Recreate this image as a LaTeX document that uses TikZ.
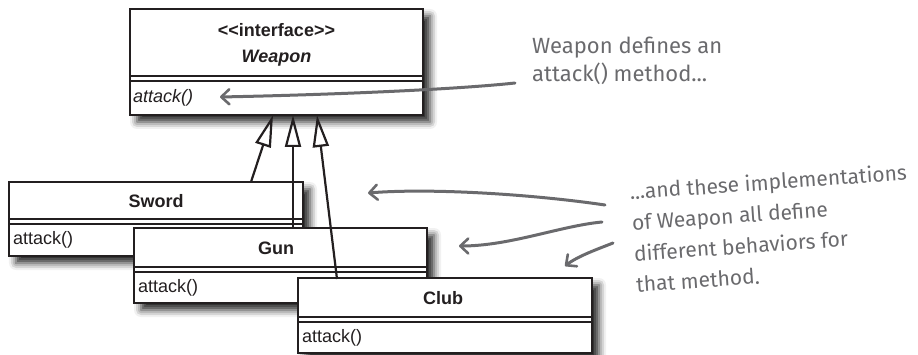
\documentclass[tikz,border=0pt]{standalone}
\usepackage{fontspec}
\setmainfont{Liberation Sans}
\newfontfamily\handfont{Fira Sans}
\usetikzlibrary{arrows.meta,shadows.blur}
\definecolor{ink}{HTML}{231F20}
\definecolor{notegray}{HTML}{6A6A6D}
\tikzset{
  classbox/.style={draw=ink, line width=2.4pt, fill=white, anchor=north west,
    inner sep=0pt, outer sep=0pt,
    blur shadow={shadow xshift=7pt, shadow yshift=-7pt, shadow blur radius=7pt, shadow opacity=85}},
  sepline/.style={draw=ink, line width=1.8pt},
  uml/.style={font=\fontsize{18}{20}\selectfont, text=ink, inner sep=0pt},
  inherit/.style={draw=ink, line width=2.2pt, -{Triangle[open, length=32pt, width=16pt, line width=2.2pt]}},
  notearrow/.style={draw=notegray, line width=3pt, line cap=round,
    -{Straight Barb[length=8pt, width=15pt, line width=2.6pt, round]}},
  handtext/.style={font=\handfont\fontsize{22}{28}\selectfont, text=notegray, align=left, inner sep=0pt}
}
\begin{document}
\begin{tikzpicture}[x=1pt,y=-1pt]
\useasboundingbox (0,0) rectangle (918,355);

% Weapon
\node[classbox, minimum width=293pt, minimum height=106pt] (weapon) at (130,9) {};
\draw[sepline] ([yshift=-67pt]weapon.north west) -- ([yshift=-67pt]weapon.north east);
\draw[sepline] ([yshift=-72pt]weapon.north west) -- ([yshift=-72pt]weapon.north east);
\node[uml, font=\fontsize{18}{20}\selectfont\bfseries] (wstereo) at (276.5,30) {<\kern0pt<interface>\kern0pt>};
\node[uml, font=\fontsize{18}{20}\selectfont\bfseries\itshape] (wname) at (276.5,58) {Weapon};
\node[uml, font=\fontsize{18}{20}\selectfont\itshape, anchor=west] (wop) at (133,98) {attack()};

% Sword
\node[classbox, minimum width=294pt, minimum height=74pt] (sword) at (9,182) {};
\draw[sepline] ([yshift=-37pt]sword.north west) -- ([yshift=-37pt]sword.north east);
\draw[sepline] ([yshift=-42pt]sword.north west) -- ([yshift=-42pt]sword.north east);
\node[uml, font=\fontsize{18}{20}\selectfont\bfseries] (sname) at (156,201) {Sword};
\node[uml, anchor=west] (sop) at (13,240) {attack()};

% Gun
\node[classbox, minimum width=293pt, minimum height=75pt] (gun) at (134,228) {};
\draw[sepline] ([yshift=-39pt]gun.north west) -- ([yshift=-39pt]gun.north east);
\draw[sepline] ([yshift=-44pt]gun.north west) -- ([yshift=-44pt]gun.north east);
\node[uml, font=\fontsize{18}{20}\selectfont\bfseries] (gname) at (276,248) {Gun};
\node[uml, anchor=west] (gop) at (138,288) {attack()};

% Club
\node[classbox, minimum width=294pt, minimum height=75pt] (club) at (298,278) {};
\draw[sepline] ([yshift=-39pt]club.north west) -- ([yshift=-39pt]club.north east);
\draw[sepline] ([yshift=-44pt]club.north west) -- ([yshift=-44pt]club.north east);
\node[uml, font=\fontsize{18}{20}\selectfont\bfseries] (cname) at (443,298) {Club};
\node[uml, anchor=west] (cop) at (302,338) {attack()};

% inheritance
\coordinate (tipS) at (273,115);
\coordinate (tipG) at (293,115);
\coordinate (tipC) at (317,115);
\coordinate (topS) at (251,182);
\coordinate (topG) at (293,228);
\coordinate (topC) at (337,279);
\draw[inherit] (topS) -- (tipS);
\draw[inherit] (topG) -- (tipG);
\draw[inherit] (topC) -- (tipC);

% notes
\node[handtext, anchor=north west] (note1) at (532,37) {Weapon defines an\\attack() method...};
\node[handtext, font=\handfont\fontsize{21}{31}\selectfont, anchor=north west, rotate=4] (note2) at (629,183) {...and these implementations\\of Weapon all define\\different behaviors for\\that method.};

\coordinate (aS) at (515,83);
\coordinate (aT) at (220,97);
\coordinate (bS) at (605,205);
\coordinate (bT) at (368,193);
\coordinate (cS) at (602,222);
\coordinate (cT) at (459,246);
\coordinate (dS) at (613,243);
\coordinate (dT) at (565,266);
\draw[notearrow] (aS) .. controls (450,90) and (320,95) .. (aT);
\draw[notearrow] (bS) .. controls (530,194) and (430,188) .. (bT);
\draw[notearrow] (cS) .. controls (560,226) and (510,246) .. (cT);
\draw[notearrow] (dS) .. controls (598,249) and (578,256) .. (dT);
\end{tikzpicture}
\end{document}
